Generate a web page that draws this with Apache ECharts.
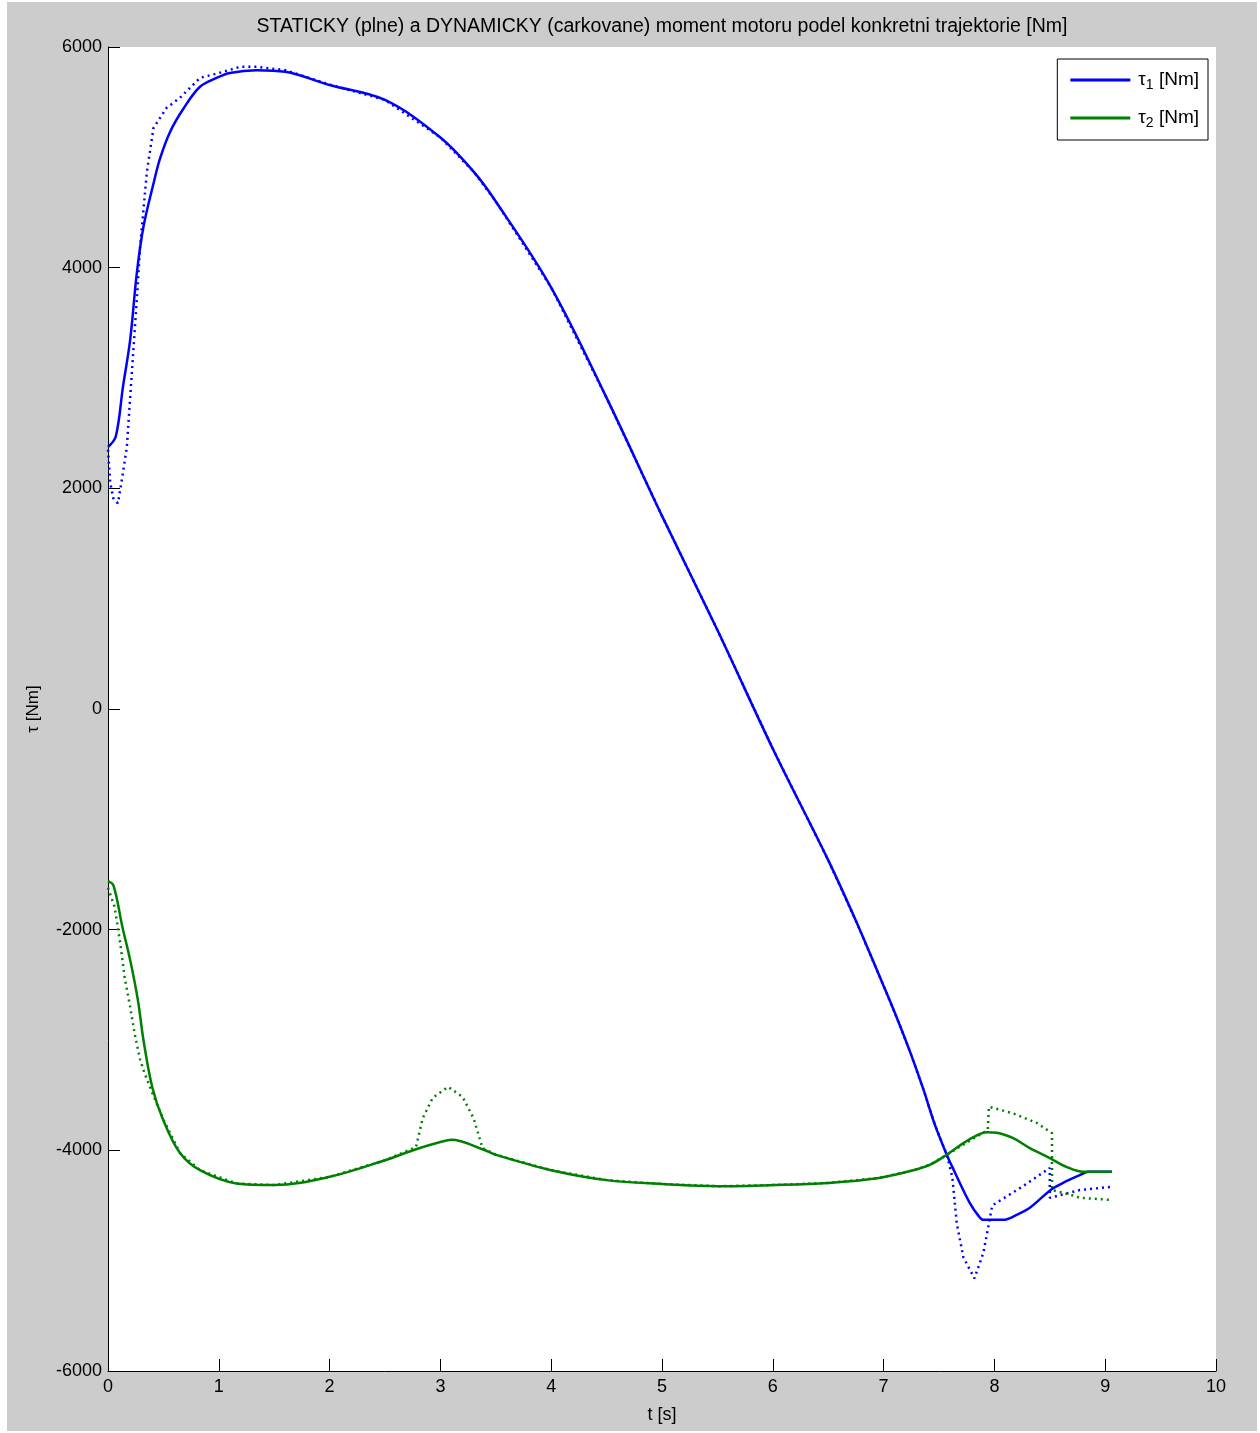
<!DOCTYPE html>
<html>
<head>
<meta charset="utf-8">
<title>moment motoru</title>
<script src="https://cdn.jsdelivr.net/npm/echarts@6/dist/echarts.min.js"></script>
<style>
	body { margin: 0; background: #fff; }
	#bg { position: absolute; left: 7px; top: 2px; width: 1250px; height: 1429px; background: #cccccc; }
	#chart { position: absolute; left: 0; top: 0; width: 1260px; height: 1433px; }
</style>
</head>
<body>
<div id="bg"></div>
<div id="chart"></div>
<script>
	// tau1 - staticky (plne)
	var tau1StatT = [0, 0.07, 0.135, 0.2, 0.26, 0.32, 0.41, 0.47, 0.56, 0.68, 0.83, 0.98, 1.1, 1.34, 1.6, 2.0, 2.5, 3.0, 3.3, 3.5, 4.0, 4.5, 5.0, 5.5, 6.0, 6.5, 6.75, 7.0, 7.12, 7.24, 7.36, 7.46, 7.57, 7.62, 7.69, 7.78, 7.85, 7.9, 8.08, 8.2, 8.32, 8.52, 8.65, 8.77, 8.85, 9.06];
	var tau1StatV = [2375, 2470, 2920, 3345, 3950, 4370, 4760, 4990, 5230, 5440, 5640, 5720, 5765, 5790, 5775, 5655, 5520, 5180, 4870, 4600, 3820, 2820, 1750, 716, -360, -1370, -1920, -2510, -2800, -3110, -3450, -3760, -4040, -4150, -4300, -4480, -4585, -4630, -4630, -4585, -4520, -4350, -4280, -4225, -4195, -4195];

	// tau1 - dynamicky (carkovane)
	var tau1DynT = [0, 0.02, 0.05, 0.09, 0.135, 0.17, 0.215, 0.26, 0.29, 0.35, 0.41, 0.53, 0.65, 0.83, 1.04, 1.19, 1.34, 1.6, 2.0, 2.5, 3.0, 3.3, 3.5, 4.0, 4.5, 5.0, 5.5, 6.0, 6.5, 6.75, 7.0, 7.12, 7.24, 7.36, 7.46, 7.57, 7.62, 7.66, 7.72, 7.82, 7.9, 7.94, 7.98, 8.25, 8.5, 8.5, 8.77, 9.06];
	var tau1DynV = [2350, 2050, 1900, 1865, 2140, 2375, 3045, 3710, 4190, 4860, 5265, 5450, 5540, 5720, 5775, 5820, 5820, 5790, 5660, 5520, 5180, 4870, 4600, 3820, 2820, 1750, 716, -360, -1370, -1920, -2510, -2800, -3110, -3450, -3760, -4040, -4240, -4660, -4970, -5160, -4930, -4720, -4500, -4330, -4160, -4430, -4360, -4330];

	// tau2 - staticky (plne)
	var tau2StatT = [0, 0.05, 0.13, 0.2, 0.27, 0.32, 0.4, 0.5, 0.65, 0.83, 1.16, 1.5, 2.0, 2.5, 2.78, 3.0, 3.1, 3.38, 3.5, 4.0, 4.5, 5.0, 5.5, 6.0, 6.5, 6.96, 7.27, 7.42, 7.57, 7.72, 7.81, 7.93, 8.02, 8.17, 8.32, 8.5, 8.65, 8.8, 9.06];
	var tau2StatV = [-1560, -1600, -1975, -2275, -2640, -3000, -3430, -3730, -4025, -4180, -4300, -4315, -4240, -4090, -3990, -3925, -3905, -3990, -4040, -4180, -4270, -4305, -4325, -4315, -4295, -4250, -4180, -4130, -4040, -3935, -3880, -3835, -3840, -3890, -3980, -4070, -4150, -4195, -4195];

	// tau2 - dynamicky (carkovane)
	var tau2DynT = [0, 0.06, 0.11, 0.15, 0.2, 0.24, 0.29, 0.33, 0.4, 0.5, 0.65, 0.83, 1.16, 1.5, 2.0, 2.5, 2.78, 2.84, 2.93, 3.07, 3.2, 3.3, 3.38, 3.5, 4.0, 4.5, 5.0, 5.5, 6.0, 6.5, 6.96, 7.27, 7.42, 7.57, 7.75, 7.94, 7.95, 8.17, 8.38, 8.52, 8.52, 8.71, 8.77, 9.06];
	var tau2DynV = [-1620, -1795, -2120, -2430, -2700, -2940, -3180, -3300, -3480, -3720, -4025, -4180, -4300, -4315, -4240, -4090, -3970, -3710, -3525, -3425, -3515, -3710, -3980, -4040, -4180, -4270, -4305, -4325, -4315, -4295, -4250, -4180, -4130, -4040, -3930, -3815, -3605, -3665, -3750, -3845, -4360, -4410, -4430, -4450];

	var xTicks = [0, 10, 1];
	var yTicks = [-6000, 6000, 2000];

	function pairs(t, v) {
		var out = [];
		for (var i = 0; i < t.length; i++) {
			out.push([t[i], v[i]]);
		}
		return out;
	}

	var font = "'Liberation Sans', Arial, sans-serif";
	var blue = '#0000ff';
	var green = '#008000';

	var myChart = echarts.init(document.getElementById('chart'));
	var option = {
		backgroundColor : 'transparent',
		animation : false,
		textStyle : {
			fontFamily : font
		},
		title : {
			text : 'STATICKY (plne) a DYNAMICKY (carkovane) moment motoru podel konkretni trajektorie [Nm]',
			left : 662,
			textAlign : 'center',
			top : 17,
			padding : 0,
			textStyle : {
				fontFamily : font,
				fontSize : 19.5,
				fontWeight : 'normal',
				color : '#000'
			}
		},
		grid : {
			left : 108,
			right : 44,
			top : 47,
			bottom : 62,
			show : true,
			backgroundColor : '#fff',
			borderWidth : 0
		},
		legend : {
			data : [ 'tau1', 'tau2' ],
			orient : 'vertical',
			right : 52,
			top : 59,
			backgroundColor : '#fff',
			borderColor : '#000',
			borderWidth : 1,
			borderRadius : 0,
			padding : [ 9, 9, 10, 13 ],
			itemGap : 14,
			itemWidth : 60,
			itemHeight : 3,
			icon : 'rect',
			formatter : function(name) {
				return name === 'tau1' ? '{t|τ}{s|1}{a| [Nm]}' : '{t|τ}{s|2}{a| [Nm]}';
			},
			textStyle : {
				color : '#000',
				rich : {
					t : {
						fontFamily : font,
						fontSize : 19,
						lineHeight : 21,
						padding : [ 0, 0, 0, 3 ],
						color : '#000'
					},
					a : {
						fontFamily : font,
						fontSize : 19,
						lineHeight : 21,
						color : '#000'
					},
					s : {
						fontFamily : font,
						fontSize : 14,
						lineHeight : 21,
						padding : [ 10, 0, 0, 0 ],
						color : '#000'
					}
				}
			}
		},
		xAxis : {
			type : 'value',
			min : xTicks[0],
			max : xTicks[1],
			interval : xTicks[2],
			name : 't [s]',
			nameLocation : 'middle',
			nameGap : 35,
			nameTextStyle : {
				fontFamily : font,
				fontSize : 18,
				color : '#000'
			},
			axisLine : {
				onZero : false,
				lineStyle : {
					color : '#000',
					width : 1
				}
			},
			axisTick : {
				inside : true,
				length : 12,
				lineStyle : {
					color : '#000'
				}
			},
			axisLabel : {
				fontFamily : font,
				fontSize : 18,
				color : '#000',
				margin : 7
			},
			splitLine : {
				show : false
			}
		},
		yAxis : {
			type : 'value',
			min : yTicks[0],
			max : yTicks[1],
			interval : yTicks[2],
			name : 'τ [Nm]',
			nameLocation : 'middle',
			nameGap : 66,
			nameRotate : 90,
			nameTextStyle : {
				fontFamily : font,
				fontSize : 17,
				color : '#000'
			},
			axisLine : {
				onZero : false,
				lineStyle : {
					color : '#000',
					width : 1
				}
			},
			axisTick : {
				inside : true,
				length : 12,
				lineStyle : {
					color : '#000'
				}
			},
			axisLabel : {
				fontFamily : font,
				fontSize : 18,
				color : '#000',
				margin : 6,
				formatter : function(v) {
					return String(v);
				}
			},
			splitLine : {
				show : false
			}
		},
		series : [ {
			name : 'tau1',
			type : 'line',
			data : pairs(tau1StatT, tau1StatV),
			smooth : 0.35,
			showSymbol : false,
			color : blue,
			lineStyle : {
				color : blue,
				width : 2.5
			},
			z : 4
		}, {
			name : 'tau1 dyn',
			type : 'line',
			data : pairs(tau1DynT, tau1DynV),
			showSymbol : false,
			color : blue,
			lineStyle : {
				color : blue,
				width : 2.5,
				type : [ 2, 4 ]
			},
			z : 3
		}, {
			name : 'tau2',
			type : 'line',
			data : pairs(tau2StatT, tau2StatV),
			smooth : 0.35,
			showSymbol : false,
			color : green,
			lineStyle : {
				color : green,
				width : 2.5
			},
			z : 4
		}, {
			name : 'tau2 dyn',
			type : 'line',
			data : pairs(tau2DynT, tau2DynV),
			showSymbol : false,
			color : green,
			lineStyle : {
				color : green,
				width : 2.5,
				type : [ 2, 4 ]
			},
			z : 3
		} ]
	};
	myChart.setOption(option);
</script>
</body>
</html>
